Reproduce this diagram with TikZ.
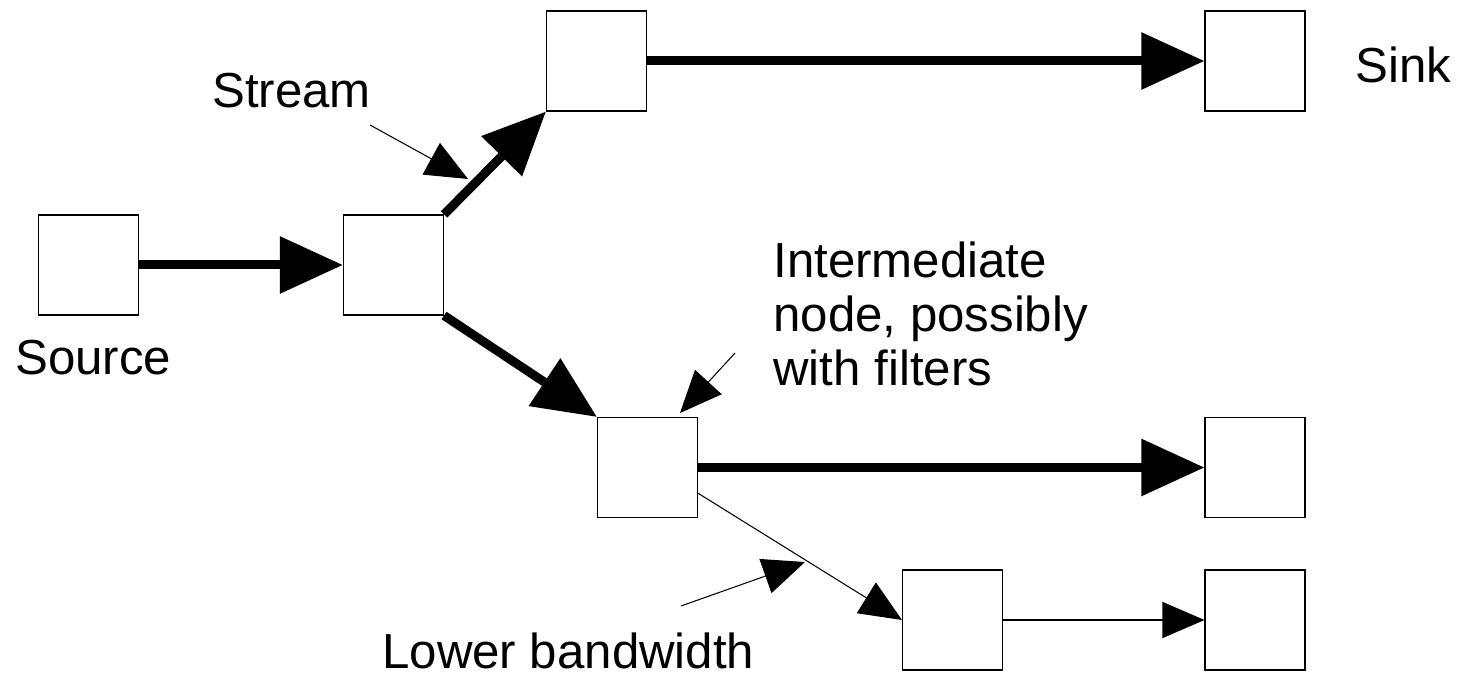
\documentclass[tikz,border=0pt]{standalone}
\usepackage{fontspec}
\setmainfont{Liberation Sans}
\usetikzlibrary{arrows.meta}
\tikzset{
  station/.style={draw, line width=0.6pt, minimum size=2cm, inner sep=0pt},
  flow/.style={line width=0.18cm, -{Triangle[length=1.26cm, width=1.1cm]}},
  thin flow/.style={line width=0.6pt, -{Triangle[length=0.84cm, width=0.72cm]}},
  label text/.style={inner sep=0pt, anchor=base west},
}

\begin{document}
\begin{tikzpicture}[every node/.style={font=\fontsize{28}{31}\selectfont}]
  \useasboundingbox (0,0) rectangle (29.22,-13.52);
  \coordinate (src)   at ( 1.77,-5.30);  \coordinate (mid)  at ( 7.87,-5.30);
  \coordinate (top)   at (11.93,-1.22);  \coordinate (sink) at (25.10,-1.22);
  \coordinate (inter) at (12.95,-9.35);  \coordinate (out1) at (25.10,-9.35);
  \coordinate (low)   at (19.05,-12.40); \coordinate (out2) at (25.10,-12.40);
  \foreach \pt in {src,mid,top,sink,inter,out1,low,out2}{\node[station] (\pt-box) at (\pt) {};}
  \draw[flow] (src-box) -- (mid-box);
  \draw[flow] (mid-box.north east) -- (top-box.south west);
  \draw[flow] (mid-box.south east) -- (inter-box.north west);
  \draw[flow] (top-box) -- (sink-box);
  \draw[flow] (inter-box) -- (out1-box);
  \draw[thin flow] (inter-box.-27) -- (low-box.west);
  \draw[thin flow] (low-box) -- (out2-box);
  % pointers from the labels
  \coordinate (stream tail) at ( 7.40,-2.50);  \coordinate (stream tip) at ( 9.36,-3.58);
  \coordinate (inter tail)  at (14.70,-7.06);  \coordinate (inter tip)  at (13.60,-8.26);
  \coordinate (band tail)   at (13.62,-12.12); \coordinate (band tip)   at (16.10,-11.24);
  \draw[thin flow] (stream tail) -- (stream tip);
  \draw[thin flow] (inter tail)  -- (inter tip);
  \draw[thin flow] (band tail)   -- (band tip);
  \node[label text] (stream label) at ( 4.24,-2.16) {Stream};
  \node[label text] (source label) at ( 0.30,-7.50) {Source};
  \node[label text] (sink label)   at (27.10,-1.66) {Sink};
  \node[label text, align=left] (inter label) at (15.46,-7.72) {Intermediate\\node, possibly\\with filters};
  \node[label text] (band label)   at ( 7.64,-13.37) {Lower bandwidth};
\end{tikzpicture}
\end{document}
